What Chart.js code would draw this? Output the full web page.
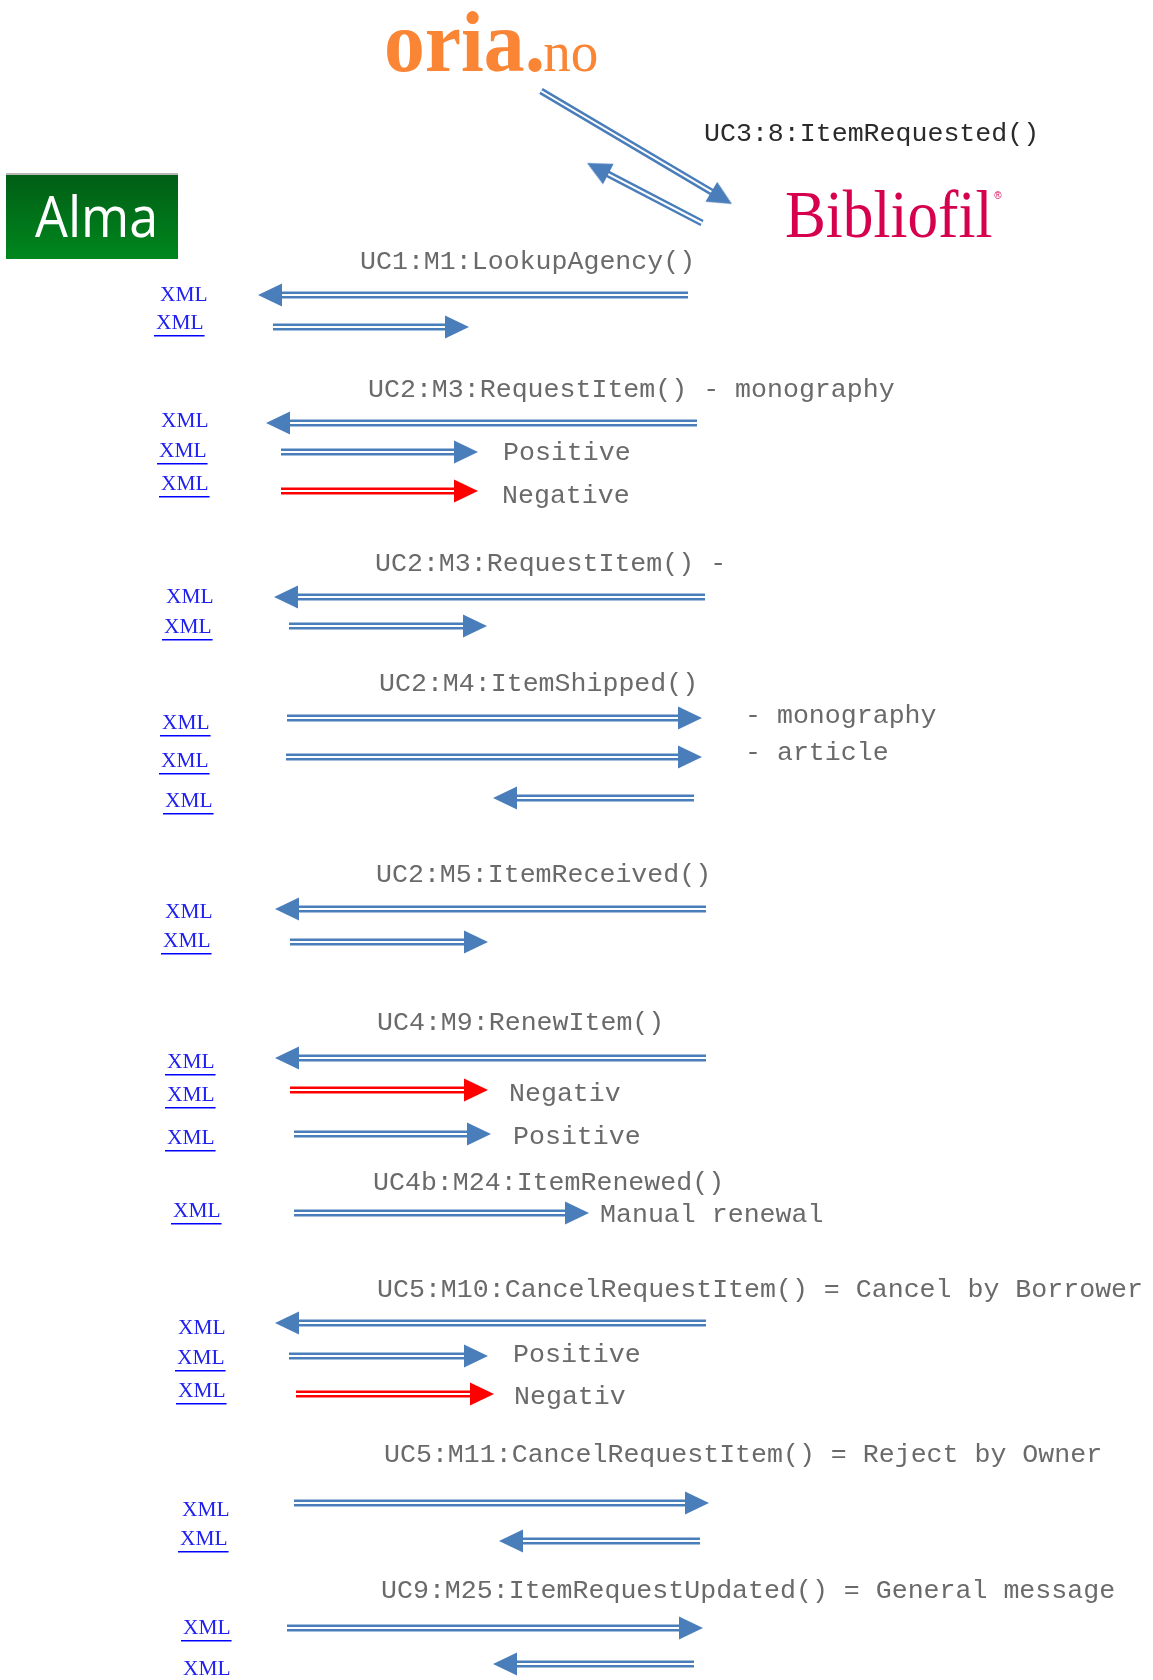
<!DOCTYPE html>
<html>
<head>
<meta charset="utf-8">
<script src="https://cdn.jsdelivr.net/npm/chart.js@4.4.1/dist/chart.umd.min.js"></script>
<style>
html,body{margin:0;padding:0;background:#ffffff;}
canvas{display:block;}
</style>
</head>
<body>
<canvas id="c" width="1153" height="1680"></canvas>
<script>
// ---- Message arrows (diagram units: x to the right, y downward) ----
const arrowFromX = [541,702,688,273,697,281,281,705,289,287,286,694,706,290,706,290,294,294,706,289,296,294,700,287,694];
const arrowFromY = [91,223,295,327,423,452,491,597,626,718,757,798,909,942,1058,1090,1134,1213,1323,1356,1394,1503,1541,1628,1664];
const arrowToX   = [732,587,258,469,266,478,478,274,487,702,702,493,275,488,275,488,491,589,275,488,494,709,499,703,493];
const arrowToY   = [204,163,295,327,423,452,491,597,626,718,757,798,909,942,1058,1090,1134,1213,1323,1356,1394,1503,1541,1628,1664];
const arrowOutcome = ['ok','ok','ok','ok','ok','ok','negative','ok','ok','ok','ok','ok','ok','ok','ok','negative','ok','ok','ok','ok','negative','ok','ok','ok','ok'];

// ---- Message labels ----
const messageText = [
  'UC3:8:ItemRequested()',
  'UC1:M1:LookupAgency()',
  'UC2:M3:RequestItem() - monography',
  'Positive',
  'Negative',
  'UC2:M3:RequestItem() -',
  'UC2:M4:ItemShipped()',
  '- monography',
  '- article',
  'UC2:M5:ItemReceived()',
  'UC4:M9:RenewItem()',
  'Negativ',
  'Positive',
  'UC4b:M24:ItemRenewed()',
  'Manual renewal',
  'UC5:M10:CancelRequestItem() = Cancel by Borrower',
  'Positive',
  'Negativ',
  'UC5:M11:CancelRequestItem() = Reject by Owner',
  'UC9:M25:ItemRequestUpdated() = General message'
];
const messageX = [704,360,368,503,502,375,379,745,745,376,377,509,513,373,600,377,513,514,384,381];
const messageY = [132,260,388,451,494,562,682,714,751,873,1021,1092,1135,1181,1213,1288,1353,1395,1453,1589];

// ---- XML links ----
const xmlX = [160,156,161,159,161,166,164,162,161,165,165,163,167,167,167,173,178,177,178,182,180,183,183];
const xmlY = [294,322,420,450,483,596,626,722,760,800,911,940,1061,1094,1137,1210,1327,1357,1390,1509,1538,1627,1668];
const xmlUnderlined = [false,true,false,true,true,false,true,true,true,true,false,true,true,true,true,true,false,true,true,false,true,true,false];

// ---- Systems (logos) ----
const systemNames = ['oria.no','Alma','Bibliofil'];
const systemX = [384, 6, 785];
const systemY = [71, 175, 237];

const BLUE = '#4A7EBB', RED = '#FF0000';
const HEAD = 24;

function makeHead(color){
  const c = document.createElement('canvas');
  c.width = HEAD; c.height = HEAD;
  const g = c.getContext('2d');
  g.fillStyle = color;
  g.beginPath();
  g.moveTo(0, 0.5); g.lineTo(HEAD, HEAD/2); g.lineTo(0, HEAD-0.5);
  g.closePath(); g.fill();
  return c;
}
const blueHead = makeHead(BLUE), redHead = makeHead(RED);

function dir(i){
  const dx = arrowToX[i]-arrowFromX[i], dy = arrowToY[i]-arrowFromY[i];
  const L = Math.hypot(dx,dy);
  return {ux: dx/L, uy: dy/L, deg: Math.atan2(dy,dx)*180/Math.PI};
}
function shaftPoints(pred, inset){
  const pts = [];
  arrowFromX.forEach((x0,i)=>{
    if(!pred(i)) return;
    const d = dir(i);
    pts.push({x: x0, y: arrowFromY[i]});
    pts.push({x: arrowToX[i]-d.ux*inset, y: arrowToY[i]-d.uy*inset});
    pts.push({x: null, y: null});
  });
  return pts;
}
const headPoints = arrowToX.map((x,i)=>{ const d = dir(i); return {x: x-d.ux*HEAD/2, y: arrowToY[i]-d.uy*HEAD/2}; });

const isNeg = i => arrowOutcome[i]==='negative';

const textPlugin = {
  id: 'diagramText',
  beforeDatasetsDraw(chart){
    const {ctx} = chart; const sx = chart.scales.x, sy = chart.scales.y;
    // oria.no
    ctx.save();
    let px = sx.getPixelForValue(systemX[0]), py = sy.getPixelForValue(systemY[0]);
    ctx.fillStyle = '#FA8535';
    ctx.translate(px, py); ctx.scale(0.95,1);
    ctx.font = 'bold 86px "Liberation Serif"';
    ctx.fillText('oria.', 0, 0);
    const w1 = ctx.measureText('oria.').width;
    ctx.font = '58px "Liberation Serif"';
    ctx.fillText('no', w1-2, 0);
    ctx.restore();
    // Alma
    ctx.save();
    px = sx.getPixelForValue(systemX[1]); py = sy.getPixelForValue(systemY[1]);
    const bw = 172, bh = 84;
    const grad = ctx.createLinearGradient(0, py, 0, py+bh);
    grad.addColorStop(0, '#005E15'); grad.addColorStop(1, '#00871E');
    ctx.fillStyle = grad; ctx.fillRect(px, py, bw, bh);
    ctx.fillStyle = '#B8B8B8'; ctx.fillRect(px, py-2, bw, 2);
    ctx.fillStyle = '#FFFFFF';
    ctx.translate(px+29, py+62); ctx.scale(0.93,1);
    ctx.font = '56px "Open Sans"';
    ctx.fillText(systemNames[1], 0, 0);
    ctx.restore();
    // Bibliofil
    ctx.save();
    px = sx.getPixelForValue(systemX[2]); py = sy.getPixelForValue(systemY[2]);
    ctx.fillStyle = '#D6004F';
    ctx.translate(px, py); ctx.scale(0.9,1);
    ctx.font = '68px "Liberation Serif"';
    ctx.fillText(systemNames[2], 0, 0);
    const bw2 = ctx.measureText(systemNames[2]).width;
    ctx.font = '11px "Liberation Sans"';
    ctx.fillText('®', bw2+2, -38);
    ctx.restore();
  },
  afterDatasetsDraw(chart){
    const {ctx} = chart; const sx = chart.scales.x, sy = chart.scales.y;
    ctx.save();
    ctx.font = '26.6px "Liberation Mono"';
    ctx.textBaseline = 'alphabetic';
    messageText.forEach((t,i)=>{
      ctx.fillStyle = i===0 ? '#2A2A2A' : '#6A6A6A';
      ctx.fillText(t, sx.getPixelForValue(messageX[i]), sy.getPixelForValue(messageY[i]) + 8.5);
    });
    ctx.restore();
    xmlX.forEach((x,i)=>{
      const px = sx.getPixelForValue(x), py = sy.getPixelForValue(xmlY[i]);
      ctx.save();
      ctx.fillStyle = '#2020F0';
      ctx.translate(px, py + 6.5);
      ctx.scale(1.07, 1);
      ctx.font = '20px "Liberation Serif"';
      ctx.fillText('XML', 0, 0);
      const w = ctx.measureText('XML').width;
      ctx.restore();
      if (xmlUnderlined[i]) {
        ctx.save();
        ctx.fillStyle = '#0000FF';
        ctx.fillRect(px - 2, py + 13, w*1.07 + 3, 1.5);
        ctx.restore();
      }
    });
  }
};

new Chart(document.getElementById('c'), {
  type: 'line',
  data: {
    datasets: [
      { label: 'heads', data: headPoints, showLine: false, order: 0,
        pointStyle: ctx => isNeg(ctx.dataIndex) ? redHead : blueHead,
        pointRotation: ctx => dir(ctx.dataIndex).deg,
        pointRadius: 12, pointHoverRadius: 12 },
      { label: 'gap', data: shaftPoints(()=>true, HEAD/2), order: 1,
        borderColor: '#FFFFFF', borderWidth: 2, pointRadius: 0, tension: 0, spanGaps: false },
      { label: 'ok', data: shaftPoints(i=>!isNeg(i), HEAD/2), order: 2,
        borderColor: BLUE, borderWidth: 7, pointRadius: 0, tension: 0, spanGaps: false },
      { label: 'negative', data: shaftPoints(isNeg, HEAD/2), order: 3,
        borderColor: RED, borderWidth: 7, pointRadius: 0, tension: 0, spanGaps: false }
    ]
  },
  options: {
    responsive: false,
    devicePixelRatio: 1,
    animation: false,
    events: [],
    layout: { padding: 0, autoPadding: false },
    plugins: { legend: { display: false }, title: { display: false }, tooltip: { enabled: false } },
    scales: {
      x: { type: 'linear', min: 0, max: 1153, display: false },
      y: { type: 'linear', min: 0, max: 1680, reverse: true, display: false }
    }
  },
  plugins: [textPlugin]
});
</script>
</body>
</html>
